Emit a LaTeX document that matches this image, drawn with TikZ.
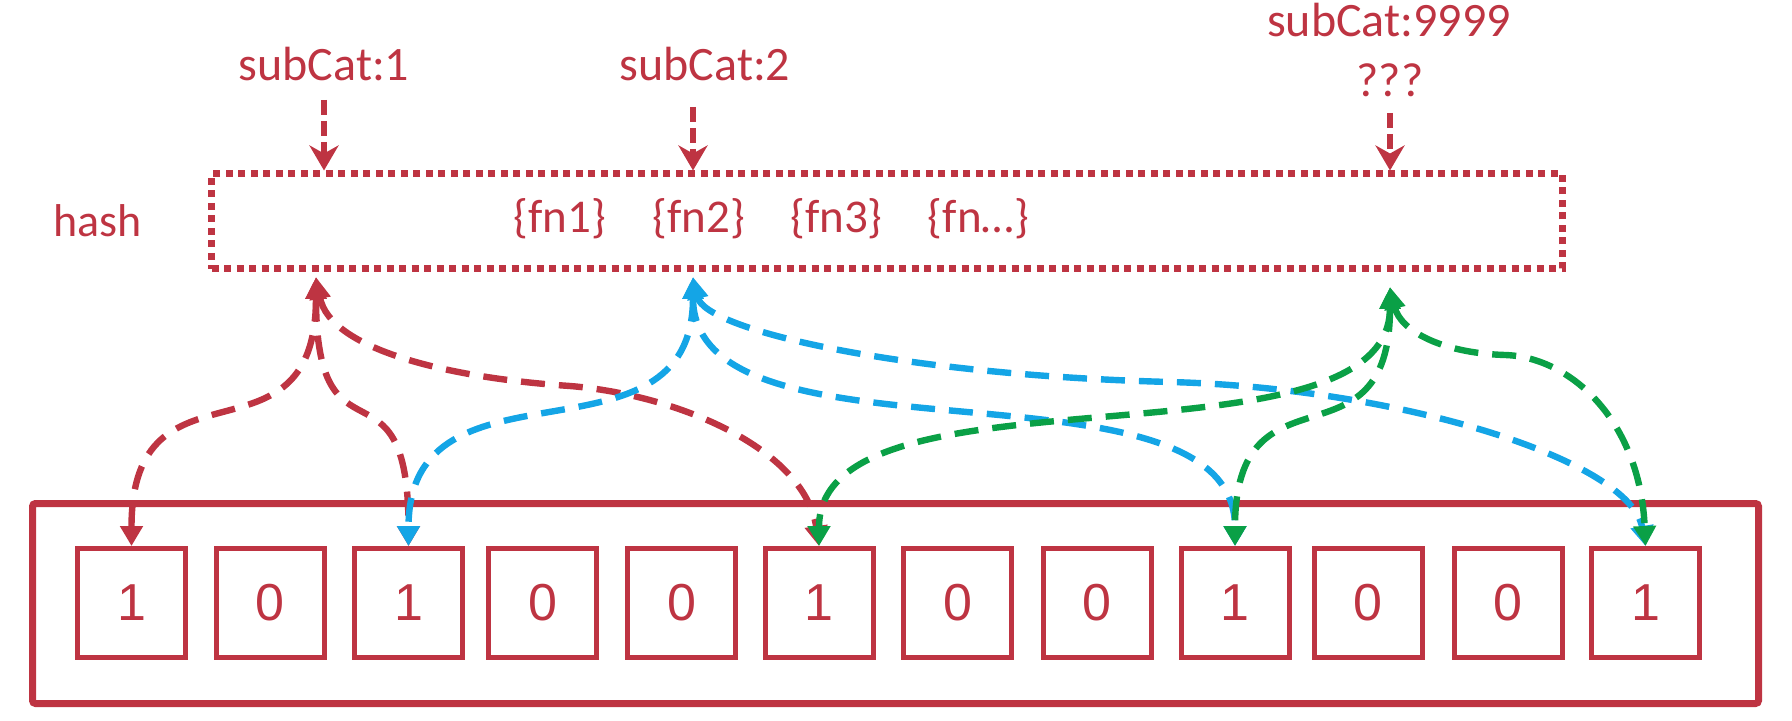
\documentclass[tikz,border=0pt]{standalone}
\usepackage{fontspec}
\setmainfont{Carlito}
\newfontfamily\digitfont{Liberation Sans}
\usetikzlibrary{arrows.meta}
\definecolor{cred}{RGB}{190,52,66}
\definecolor{cblue}{RGB}{20,165,230}
\definecolor{cgreen}{RGB}{10,160,70}
\begin{document}
\begin{tikzpicture}[x=0.5pt,y=-0.5pt,
  lbl/.style={text=cred, font=\fontsize{24}{28}\selectfont, inner sep=0pt, anchor=base},
  fnlbl/.style={text=cred, font=\fontsize{23.5}{28}\selectfont, inner sep=0pt, anchor=base},
  bitbox/.style={draw=cred, line width=2.5pt, minimum width=54pt, minimum height=54.5pt,
    inner sep=0pt, font=\digitfont\fontsize{26}{30}\selectfont, text=cred},
  hashbox/.style={draw=cred, line width=3.5pt, dash pattern=on 3.5pt off 2.75pt,
    minimum width=675.25pt, minimum height=47.5pt, inner sep=0pt},
  outerbox/.style={draw=cred, line width=3.5pt, rounded corners=1.5pt,
    minimum width=863pt, minimum height=100pt, inner sep=0pt},
  inarrow/.style={draw=cred, line width=3pt, dash pattern=on 7.5pt off 3pt,
    -{Stealth[length=12.5pt,width=14.5pt,inset=4pt]}},
  curve/.style={line width=3.2pt, dash pattern=on 12pt off 7pt,
    {Triangle[length=11pt,width=10pt]}-{Triangle[length=10pt,width=11pt]}},
  redc/.style={curve, draw=cred, cred},
  bluec/.style={curve, draw=cblue, cblue},
  greenc/.style={curve, draw=cgreen, cgreen},
]
\useasboundingbox (0,0) rectangle (1792,721);

% outer bit array
\node[outerbox] (arr) at (895.5,603.5) {};
\foreach \i/\x/\v in {1/131.5/1,2/270/0,3/408.5/1,4/542.5/0,5/681.5/0,6/819/1,
                     7/957.5/0,8/1097/0,9/1235/1,10/1368/0,11/1508/0,12/1645.5/1}
  \node[bitbox] (b\i) at (\x,603) {\v};

% hash box
\node[hashbox] (hb) at (886.75,221.5) {};
\node[lbl, font=\fontsize{23}{28}\selectfont] (hashlbl) at (97.5,237) {hash};
\node[fnlbl] (fn1) at (560,233) {\{fn1\}};
\node[fnlbl] (fn2) at (699,233) {\{fn2\}};
\node[fnlbl] (fn3) at (836.5,233) {\{fn3\}};
\node[fnlbl] (fn4) at (978.5,233) {\{fn…\}};

% labels
\node[lbl] (s1) at (324,81) {subCat:1};
\node[lbl] (s2) at (705,81) {subCat:2};
\node[lbl] (s3) at (1389,37) {subCat:9999};
\node[lbl] (s3q) at (1390,97) {???};

\coordinate (a1) at (324,100);
\coordinate (a2) at (693,107);
\coordinate (a3) at (1390,113);
\draw[inarrow] (a1) -- (a1 |- hb.north);
\draw[inarrow] (a2) -- (a2 |- hb.north);
\draw[inarrow] (a3) -- (a3 |- hb.north);

% curve origins
\coordinate (r0) at (316,277);
\coordinate (bl0) at (693,277);
\coordinate (g0) at (1390,287);

% red
\draw[redc] (r0) .. controls +(0,200) and +(0,-200) .. (b1.north);
\draw[redc] (r0) .. controls +(0,200) and +(0,-200) .. (b3.north);
\draw[redc] (r0) .. controls (330,350) and (450,378) .. (570,386)
                 .. controls (680,395) and (805,450) .. (b6.north);
% blue
\draw[bluec] (bl0) .. controls +(0,200) and +(0,-200) .. (b3.north);
\draw[bluec] (bl0) .. controls +(0,200) and +(0,-200) .. (b9.north);
\draw[bluec] (bl0) .. controls (705,330) and (900,375) .. (1170,382)
                  .. controls (1400,388) and (1630,460) .. (b12.north);
% green
\draw[greenc] (g0) .. controls +(0,190) and +(0,-190) .. (b6.north);
\draw[greenc] (g0) .. controls +(0,190) and +(0,-190) .. (b9.north);
\draw[greenc] (g0) .. controls (1400,330) and (1440,353) .. (1505,355)
                   .. controls (1570,357) and (1640,420) .. (b12.north);
\end{tikzpicture}
\end{document}
